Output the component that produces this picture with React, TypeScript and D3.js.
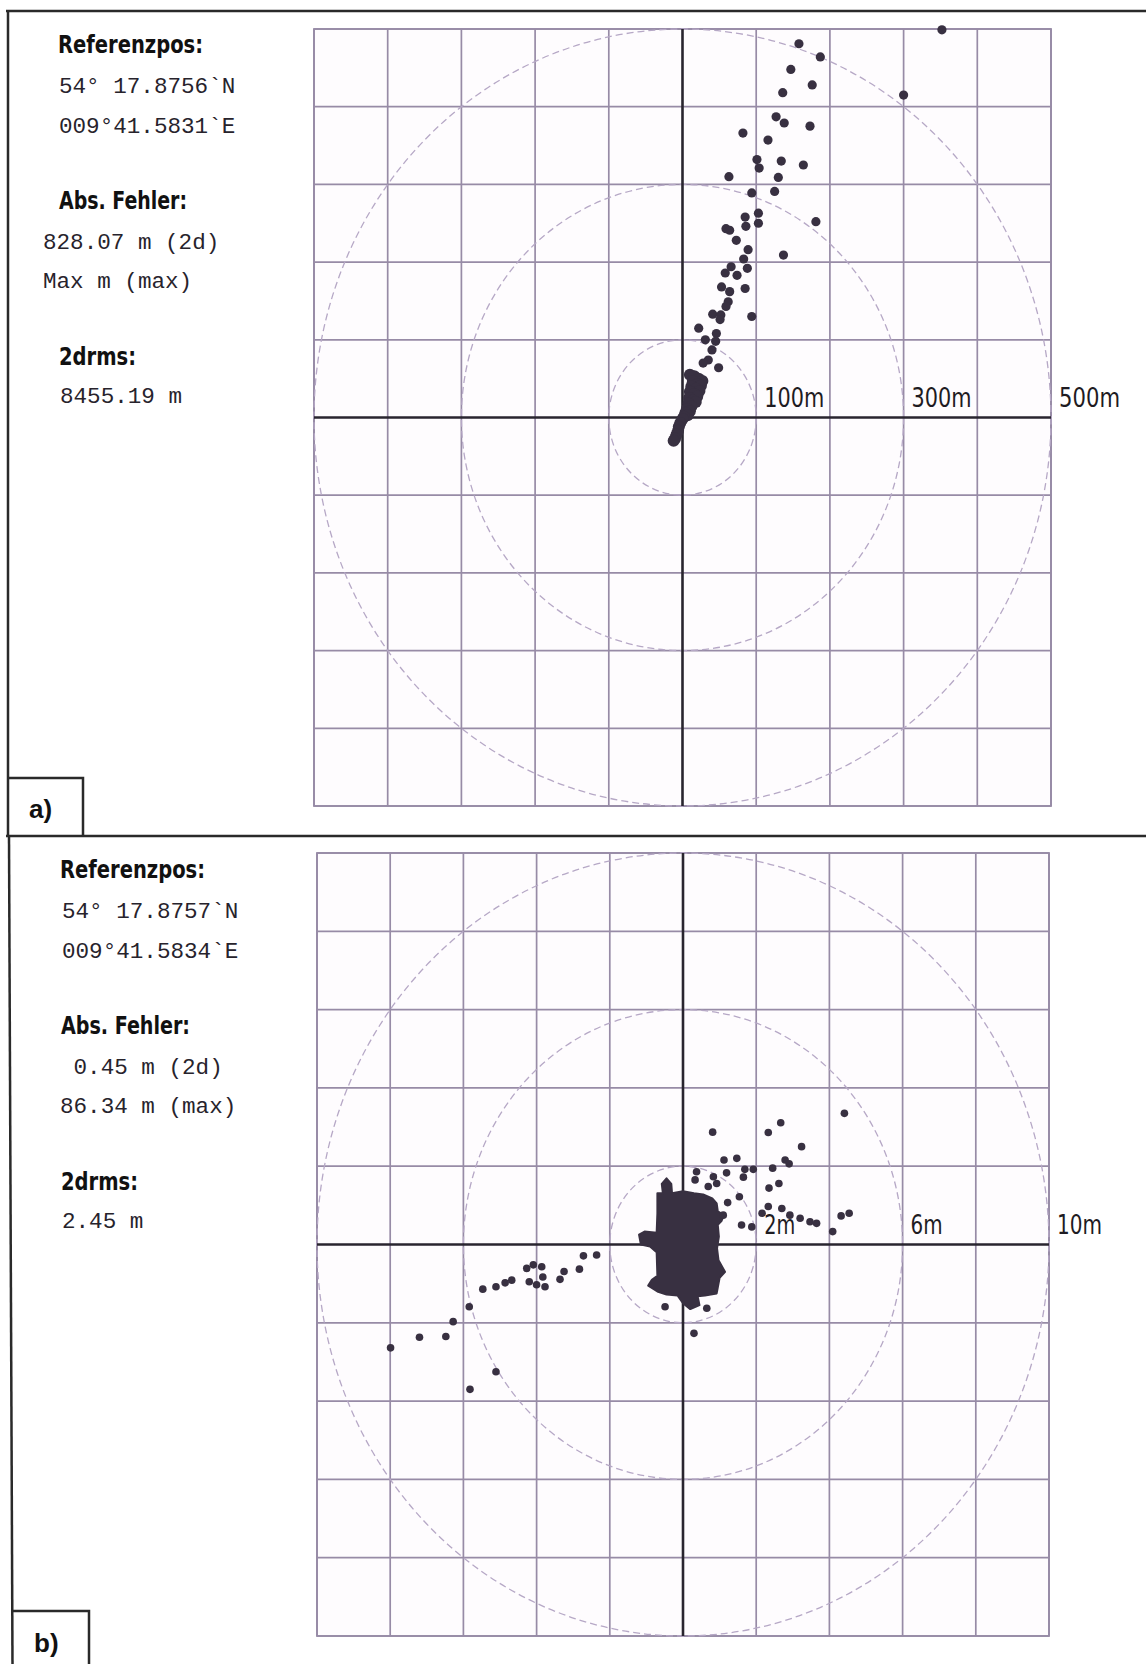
import React from "react";
import * as d3 from "d3";

const W = 1146;
const H = 1664;

// ---- panel a) : offsets from reference position, metres (east, north)
const scatterA: [number, number][] = [
  [352, 499], [158, 481], [187, 464], [147, 448], [176, 428], [136, 418], [300, 415],
  [127, 387], [138, 379], [173, 375], [82, 366], [116, 357], [101, 332], [134, 330],
  [164, 325], [104, 321], [63, 310], [130, 309], [125, 291], [94, 289], [103, 263],
  [103, 250], [181, 252], [85, 258], [59, 243], [64, 241], [86, 246], [73, 228],
  [89, 216], [83, 204], [137, 209], [66, 194], [58, 186], [74, 183], [88, 192],
  [53, 168], [85, 166], [64, 162], [62, 149], [59, 143], [41, 133], [52, 132],
  [94, 130], [51, 126], [22, 115], [46, 108], [31, 100], [45, 98], [40, 87],
  [35, 74], [28, 70], [49, 64],
];
// dense trail near the origin
const blobA: [number, number][] = [
  [10, 55], [16, 53], [22, 50], [27, 47], [14, 47], [20, 43], [25, 41], [12, 40],
  [18, 37], [23, 34], [10, 33], [16, 30], [20, 27], [9, 25], [14, 22], [18, 20],
  [8, 18], [12, 14], [6, 11], [10, 8], [4, 6], [7, 3], [2, 1], [0, -2], [-3, -7],
  [-5, -12], [-6, -17], [-8, -22], [-10, -27], [-12, -30],
];
const ringsA = [100, 300, 500];
const ringLabelsA = ["100m", "300m", "500m"];
const labelWidthsA = [60, 60, 61];
const infoA = [
  "Referenzpos:", "54° 17.8756`N", "009°41.5831`E", "Abs. Fehler:",
  "828.07 m (2d)", "Max m (max)", "2drms:", "8455.19 m",
];

// ---- panel b)
const scatterB: [number, number][] = [
  [0.81, 2.87], [2.33, 2.86], [2.67, 3.11], [4.41, 3.35], [3.24, 2.5], [1.12, 2.16],
  [1.47, 2.2], [2.79, 2.16], [2.9, 2.06], [2.45, 1.95], [1.92, 1.92], [1.69, 1.92],
  [1.19, 1.83], [1.65, 1.72], [0.37, 1.86], [0.33, 1.65], [0.83, 1.73], [0.92, 1.56],
  [0.69, 1.48], [2.35, 1.44], [2.62, 1.56], [1.54, 1.22], [1.22, 1.07], [2.33, 0.97],
  [2.16, 0.8], [2.7, 0.92], [2.92, 0.75], [3.2, 0.67], [3.47, 0.58], [3.65, 0.54],
  [1.6, 0.5], [1.88, 0.45], [4.32, 0.73], [4.54, 0.8], [4.09, 0.33], [1.1, 0.75],
  [-0.49, -1.59], [0.65, -1.63], [0.3, -2.27],
  [-2.36, -0.27], [-2.72, -0.29], [-2.83, -0.63], [-3.25, -0.69], [-3.36, -0.89],
  [-3.77, -1.08], [-3.86, -0.57], [-3.83, -0.83], [-4.27, -0.61], [-4.2, -0.95],
  [-4.0, -1.03], [-4.68, -0.91], [-4.86, -0.98], [-5.11, -1.08], [-5.47, -1.14],
  [-5.84, -1.59], [-6.28, -1.97], [-6.48, -2.35], [-7.2, -2.37], [-7.99, -2.64],
  [-5.11, -3.25], [-5.82, -3.7], [-4.09, -0.52],
];
// outline of the saturated core of fixes
const coreB: [number, number][] = [
  [-0.7, 1.31], [-0.55, 1.31], [-0.58, 1.55], [-0.45, 1.69], [-0.32, 1.55], [-0.3, 1.31],
  [0.0, 1.36], [0.3, 1.31], [0.55, 1.28], [0.8, 1.18], [0.92, 1.05], [0.95, 0.85],
  [1.12, 0.75], [1.05, 0.6], [0.95, 0.5], [0.98, 0.2], [0.93, -0.1], [0.97, -0.4],
  [1.15, -0.7], [1.0, -0.85], [0.95, -1.1], [0.92, -1.25], [0.6, -1.3], [0.4, -1.32],
  [0.45, -1.55], [0.2, -1.65], [0.0, -1.5], [-0.15, -1.3], [-0.45, -1.28], [-0.7, -1.2],
  [-0.95, -1.05], [-0.85, -0.9], [-0.7, -0.8], [-0.72, -0.2], [-0.9, -0.05], [-1.15, 0.0],
  [-1.2, 0.25], [-1.05, 0.33], [-0.72, 0.3], [-0.7, 0.8],
];
const ringsB = [2, 6, 10];
const ringLabelsB = ["2m", "6m", "10m"];
const labelWidthsB = [31, 32, 45];
const infoB = [
  "Referenzpos:", "54° 17.8757`N", "009°41.5834`E", "Abs. Fehler:",
  " 0.45 m (2d)", "86.34 m (max)", "2drms:", "2.45 m",
];

const GRID = "#978ba6";
const RING = "#b6a8c6";
const AXIS = "#29252f";
const DOT = "#383041";
const TXT = "#27232c";
const NARROW = "'Liberation Sans Narrow', 'DejaVu Sans Condensed', 'Arial Narrow', sans-serif";
const MONO = "'Liberation Mono', 'DejaVu Sans Mono', monospace";

const lineDy = [42, 82, 122, 198, 238, 277, 354, 392];
const headingIdx = [0, 3, 6];

function Info({ lines, top, xs, widths }) {
  return (
    <g>
      {lines.map((t, i) => {
        const head = headingIdx.includes(i);
        return head ? (
          <text key={i} x={xs[i]} y={top + lineDy[i]} fontFamily={NARROW} fontWeight="bold"
            fontSize={24} fill="#111" textLength={widths[i]} lengthAdjust="spacingAndGlyphs">{t}</text>
        ) : (
          <text key={i} x={xs[i]} y={top + lineDy[i]} fontFamily={MONO} fontSize={22.6}
            fill={TXT} style={{ whiteSpace: "pre" }}>{t}</text>
        );
      })}
    </g>
  );
}

function Plot({ frame, extent, rings, labels, labelWidths, points, blob, core, r }) {
  const x = d3.scaleLinear().domain([-extent, extent]).range([frame.x0, frame.x1]);
  const y = d3.scaleLinear().domain([-extent, extent]).range([frame.y1, frame.y0]);
  const ticks = x.ticks(10);
  const line = d3.line().x((d) => x(d[0])).y((d) => y(d[1])).curve(d3.curveLinearClosed);
  return (
    <g>
      <rect x={frame.x0} y={frame.y0} width={frame.x1 - frame.x0} height={frame.y1 - frame.y0}
        fill="#fefcfe" stroke={GRID} strokeWidth={1.8} />
      {ticks.filter((t) => t !== 0).map((t) => (
        <g key={t}>
          <line x1={x(t)} x2={x(t)} y1={frame.y0} y2={frame.y1} stroke={GRID} strokeWidth={1.7} />
          <line x1={frame.x0} x2={frame.x1} y1={y(t)} y2={y(t)} stroke={GRID} strokeWidth={1.7} />
        </g>
      ))}
      {rings.map((rr) => (
        <ellipse key={rr} cx={x(0)} cy={y(0)} rx={x(rr) - x(0)} ry={y(0) - y(rr)} fill="none"
          stroke={RING} strokeWidth={1.3} strokeDasharray="7 4" />
      ))}
      <line x1={x(0)} x2={x(0)} y1={frame.y0} y2={frame.y1} stroke={AXIS} strokeWidth={2.6} />
      <line x1={frame.x0} x2={frame.x1} y1={y(0)} y2={y(0)} stroke={AXIS} strokeWidth={2.6} />
      {rings.map((rr, i) => (
        <text key={rr} x={x(rr) + 8} y={y(0) - 11} fontFamily={NARROW} fontSize={26} fill="#1e1b22"
          textLength={labelWidths[i]} lengthAdjust="spacingAndGlyphs">
          {labels[i]}
        </text>
      ))}
      {core && <path d={line(core)} fill={DOT} stroke={DOT} strokeWidth={2} strokeLinejoin="round" />}
      {blob && blob.map((d, i) => <circle key={"b" + i} cx={x(d[0])} cy={y(d[1])} r={6} fill={DOT} />)}
      {points.map((d, i) => <circle key={i} cx={x(d[0])} cy={y(d[1])} r={r} fill={DOT} />)}
    </g>
  );
}

export default function App() {
  return (
    <svg width={W} height={H} style={{ position: "absolute", left: 0, top: 0, background: "#fff" }}>
      <rect width={W} height={H} fill="#fff" />
      {/* panel borders */}
      <line x1={6} x2={W} y1={11} y2={11} stroke="#2a2a2a" strokeWidth={2.5} />
      <line x1={8} x2={8} y1={10} y2={836} stroke="#2a2a2a" strokeWidth={2.5} />
      <line x1={6} x2={W} y1={836} y2={836} stroke="#2a2a2a" strokeWidth={2.5} />
      <line x1={9} x2={12.5} y1={836} y2={H} stroke="#2a2a2a" strokeWidth={2.5} />
      <polyline points="8,778 83,778 83,836" fill="none" stroke="#2a2a2a" strokeWidth={2.5} />
      <polyline points="12,1611 89,1611 89,1664" fill="none" stroke="#2a2a2a" strokeWidth={2.5} />
      <text x={29} y={818} fontFamily="'Liberation Sans', Arial, sans-serif" fontWeight="bold"
        fontSize={26} fill="#111">a)</text>
      <text x={34} y={1652} fontFamily="'Liberation Sans', Arial, sans-serif" fontWeight="bold"
        fontSize={26} fill="#111">b)</text>

      <Info lines={infoA} top={11} xs={[58, 59, 59, 59, 43, 43, 59, 60]}
        widths={[145, 0, 0, 128, 0, 0, 77, 0]} />
      <Info lines={infoB} top={836} xs={[60, 62, 62, 61, 60, 60, 61, 62]}
        widths={[145, 0, 0, 129, 0, 0, 77, 0]} />

      <Plot frame={{ x0: 314, x1: 1051, y0: 29, y1: 806 }} extent={500} rings={ringsA}
        labels={ringLabelsA} labelWidths={labelWidthsA} points={scatterA} blob={blobA}
        core={null} r={4.6} />
      <Plot frame={{ x0: 317, x1: 1049, y0: 853, y1: 1636 }} extent={10} rings={ringsB}
        labels={ringLabelsB} labelWidths={labelWidthsB} points={scatterB} blob={null}
        core={coreB} r={3.8} />
    </svg>
  );
}
